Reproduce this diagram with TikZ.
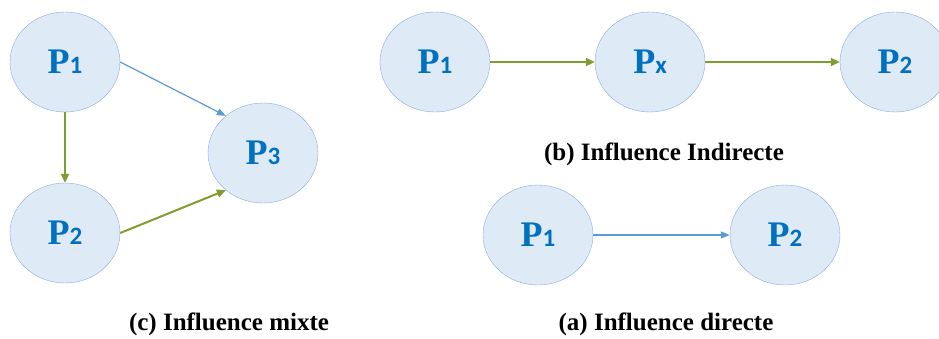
\documentclass[tikz,border=0pt]{standalone}
\usepackage{fontspec}
\setmainfont{Liberation Serif}
\newfontfamily\digitfont{Carlito}
\usetikzlibrary{shapes.geometric, arrows.meta}

\definecolor{nodefill}{HTML}{DEEBF7}
\definecolor{nodeline}{HTML}{8FAADC}
\definecolor{nodetext}{HTML}{0070C0}
\definecolor{bluearrow}{HTML}{5B9BD5}
\definecolor{greenarrow}{HTML}{7F9E2F}

\newcommand{\pname}[1]{P{\digitfont\fontsize{25}{25}\selectfont #1}}

\begin{document}
\begin{tikzpicture}[
          x=1pt, y=-1pt,
          person/.style={ellipse, draw=nodeline, fill=nodefill, minimum width=110pt,
            minimum height=100pt, inner sep=0pt, text=nodetext,
            font=\fontsize{36}{36}\selectfont\bfseries},
          caption/.style={font=\fontsize{25}{30}\selectfont\bfseries},
          blue/.style={-{Triangle[length=9pt,width=7pt]}, draw=bluearrow, fill=bluearrow, line width=1.2pt},
          green/.style={-{Triangle[length=9pt,width=8pt]}, draw=greenarrow, fill=greenarrow, line width=2pt}
        ]
          \useasboundingbox (0,0) rectangle (939,338);

          % (c) mixed influence
          \node[person] (c1) at (65,62) {\pname{1}};
          \node[person] (c2) at (65,233) {\pname{2}};
          \node[person] (c3) at (263,153) {\pname{3}};
          \node[caption] (capc) at (229,324) {(c) Influence mixte};

          % (b) indirect influence
          \node[person] (b1) at (435,62) {\pname{1}};
          \node[person] (bx) at (650,62) {\pname{x}};
          \node[person] (b2) at (895,62) {\pname{2}};
          \node[caption] (capb) at (664,154) {(b) Influence Indirecte};

          % (a) direct influence
          \node[person] (a1) at (538,235) {\pname{1}};
          \node[person] (a2) at (785,235) {\pname{2}};
          \node[caption] (capa) at (666,324) {(a) Influence directe};

          % arrows
          \draw[blue] (c1.east) -- (c3.135);
          \draw[green] (c1.south) -- (c2.north);
          \draw[green] (c2.east) -- (c3.225);
          \draw[green] (b1.east) -- (bx.west);
          \draw[green] (bx.east) -- (b2.west);
          \draw[blue] (a1.east) -- (a2.west);
\end{tikzpicture}
\end{document}
